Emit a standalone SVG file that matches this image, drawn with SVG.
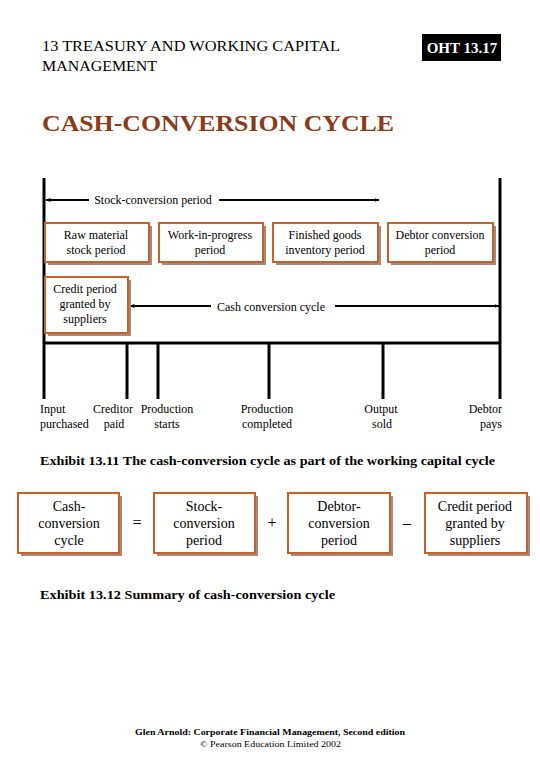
<svg xmlns="http://www.w3.org/2000/svg" width="540" height="780" viewBox="0 0 540 780">
<style>
text{font-family:"Liberation Serif","Times New Roman",serif;fill:#000}
.hd{font-size:15.5px}
.bx{font-size:12px;text-anchor:middle}
.fx{font-size:14px;text-anchor:middle}
.lb{font-size:12px}
.cap{font-size:13px;font-weight:bold}
.box{fill:#fff;stroke:#c4622d;stroke-width:2}
.sh{fill:#a88a7c}
.ln{stroke:#000;stroke-width:3;fill:none}
.ar{stroke:#000;stroke-width:2;fill:none}
</style>
<defs>
<marker id="ah" viewBox="0 0 10 10" refX="9" refY="5" markerWidth="5" markerHeight="5" orient="auto-start-reverse" markerUnits="userSpaceOnUse">
<path d="M0,1 L10,5 L0,9 z" fill="#000"/>
</marker>
</defs>
<rect width="540" height="780" fill="#fff"/>
<g id="header">
<text class="hd" x="42" y="51" textLength="298" lengthAdjust="spacingAndGlyphs">13  TREASURY AND WORKING CAPITAL</text>
<text class="hd" x="42" y="71" textLength="115" lengthAdjust="spacingAndGlyphs">MANAGEMENT</text>
<rect x="422" y="34" width="79" height="27" fill="#000"/>
<text x="462" y="53" style="font-size:15px;font-weight:bold;fill:#fff;text-anchor:middle">OHT 13.17</text>
<text x="42" y="131" style="font-size:24px;font-weight:bold;fill:#8b3a1a" textLength="352" lengthAdjust="spacingAndGlyphs">CASH-CONVERSION CYCLE</text>
</g>
<g id="connectors">
<line class="ln" x1="44" y1="178" x2="44" y2="399"/>
<line class="ln" x1="500" y1="178" x2="500" y2="399"/>
<line class="ln" x1="44" y1="343" x2="500" y2="343"/>
<line class="ln" x1="127" y1="343" x2="127" y2="399"/>
<line class="ln" x1="158" y1="343" x2="158" y2="399"/>
<line class="ln" x1="269" y1="343" x2="269" y2="399"/>
<line class="ln" x1="383" y1="343" x2="383" y2="399"/>
<line class="ar" x1="89" y1="200" x2="46" y2="200" marker-end="url(#ah)"/>
<line class="ar" x1="219" y1="200" x2="379" y2="200" marker-end="url(#ah)"/>
<line class="ar" x1="211" y1="306" x2="130" y2="306" marker-end="url(#ah)"/>
<line class="ar" x1="335" y1="306" x2="499" y2="306" marker-end="url(#ah)"/>
</g>
<g id="arrow-labels">
<text class="bx" x="153" y="204">Stock-conversion period</text>
<text class="bx" x="271" y="311">Cash conversion cycle</text>
</g>
<g id="raw-material">
<rect class="sh" x="48" y="226" width="104" height="39"/>
<rect class="box" x="45" y="223" width="104" height="39"/>
<text class="bx" x="96" y="239">Raw material</text>
<text class="bx" x="96" y="254">stock period</text>
</g>
<g id="wip">
<rect class="sh" x="162" y="226" width="104" height="39"/>
<rect class="box" x="159" y="223" width="104" height="39"/>
<text class="bx" x="210" y="239">Work-in-progress</text>
<text class="bx" x="210" y="254">period</text>
</g>
<g id="finished-goods">
<rect class="sh" x="276" y="226" width="105" height="39"/>
<rect class="box" x="273" y="223" width="105" height="39"/>
<text class="bx" x="325" y="239">Finished goods</text>
<text class="bx" x="325" y="254">inventory period</text>
</g>
<g id="debtor-conversion">
<rect class="sh" x="391" y="226" width="105" height="39"/>
<rect class="box" x="388" y="223" width="105" height="39"/>
<text class="bx" x="440" y="239">Debtor conversion</text>
<text class="bx" x="440" y="254">period</text>
</g>
<g id="credit-period">
<rect class="sh" x="48" y="280" width="83" height="56"/>
<rect class="box" x="45" y="277" width="83" height="56"/>
<text class="bx" x="85" y="293">Credit period</text>
<text class="bx" x="85" y="308">granted by</text>
<text class="bx" x="85" y="323">suppliers</text>
</g>
<g id="timeline-labels">
<text class="lb" x="40" y="413">Input</text>
<text class="lb" x="40" y="428">purchased</text>
<text class="lb" x="113" y="413" text-anchor="middle">Creditor</text>
<text class="lb" x="114" y="428" text-anchor="middle">paid</text>
<text class="lb" x="167" y="413" text-anchor="middle">Production</text>
<text class="lb" x="167" y="428" text-anchor="middle">starts</text>
<text class="lb" x="267" y="413" text-anchor="middle">Production</text>
<text class="lb" x="267" y="428" text-anchor="middle">completed</text>
<text class="lb" x="381" y="413" text-anchor="middle">Output</text>
<text class="lb" x="382" y="428" text-anchor="middle">sold</text>
<text class="lb" x="502" y="413" text-anchor="end">Debtor</text>
<text class="lb" x="502" y="428" text-anchor="end">pays</text>
</g>
<text class="cap" x="40" y="465" textLength="455" lengthAdjust="spacingAndGlyphs">Exhibit 13.11   The cash-conversion cycle as part of the working capital cycle</text>
<g id="f-cash">
<rect class="sh" x="21" y="496" width="101" height="60"/>
<rect class="box" x="18" y="493" width="101" height="60"/>
<text class="fx" x="69" y="511">Cash-</text>
<text class="fx" x="69" y="528">conversion</text>
<text class="fx" x="69" y="545">cycle</text>
</g>
<text class="fx" x="137" y="528" style="font-size:16px">=</text>
<g id="f-stock">
<rect class="sh" x="157" y="496" width="101" height="60"/>
<rect class="box" x="154" y="493" width="101" height="60"/>
<text class="fx" x="204" y="511">Stock-</text>
<text class="fx" x="204" y="528">conversion</text>
<text class="fx" x="204" y="545">period</text>
</g>
<text class="fx" x="272" y="528" style="font-size:16px">+</text>
<g id="f-debtor">
<rect class="sh" x="291" y="496" width="102" height="60"/>
<rect class="box" x="288" y="493" width="102" height="60"/>
<text class="fx" x="339" y="511">Debtor-</text>
<text class="fx" x="339" y="528">conversion</text>
<text class="fx" x="339" y="545">period</text>
</g>
<text class="fx" x="407" y="528" style="font-size:16px">–</text>
<g id="f-credit">
<rect class="sh" x="428" y="496" width="102" height="60"/>
<rect class="box" x="425" y="493" width="102" height="60"/>
<text class="fx" x="475" y="511">Credit period</text>
<text class="fx" x="475" y="528">granted by</text>
<text class="fx" x="475" y="545">suppliers</text>
</g>
<text class="cap" x="40" y="599" textLength="295" lengthAdjust="spacingAndGlyphs">Exhibit 13.12   Summary of cash-conversion cycle</text>
<g id="footer">
<text x="135" y="735" style="font-size:9px;font-weight:bold" textLength="270" lengthAdjust="spacingAndGlyphs">Glen Arnold: Corporate Financial Management, Second edition</text>
<text x="200" y="747" style="font-size:9px" textLength="141" lengthAdjust="spacingAndGlyphs">© Pearson Education Limited 2002</text>
</g>
</svg>
